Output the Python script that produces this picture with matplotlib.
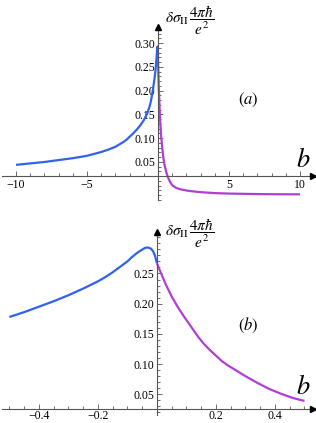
import matplotlib
matplotlib.use("Agg")
import matplotlib.pyplot as plt
from matplotlib.ticker import MultipleLocator, FixedLocator

plt.rcParams['mathtext.fontset'] = 'stix'
plt.rcParams['font.family'] = ['Liberation Serif', 'DejaVu Serif']

# ---- data ----
# wide range, b < -0.5 (panel a)
b_neg_wide = [-10, -9, -8, -7, -6, -5, -4, -3.5, -3, -2.5, -2.25, -2, -1.75, -1.5, -1.25, -1, -0.9, -0.75, -0.6]
s_neg_wide = [0.044, 0.047, 0.050, 0.054, 0.058, 0.063, 0.071, 0.076, 0.082, 0.091, 0.096, 0.103, 0.110, 0.118, 0.127,
              0.138, 0.144, 0.153, 0.166]
# zoomed range, -0.5 <= b <= 0
b_neg_zoom = [-0.5, -0.45, -0.4, -0.35, -0.3, -0.25, -0.2, -0.175, -0.15, -0.125, -0.1, -0.085, -0.07, -0.06,
              -0.05, -0.04, -0.03, -0.02, -0.013, -0.007, -0.003, 0.0]
s_neg_zoom = [0.178, 0.186, 0.195, 0.204, 0.214, 0.225, 0.237, 0.244, 0.252, 0.261, 0.270, 0.277, 0.283, 0.2865,
              0.2895, 0.2925, 0.293, 0.291, 0.287, 0.280, 0.273, 0.267]
# zoomed range, 0 <= b <= 0.5
b_pos_zoom = [0.0, 0.01, 0.03, 0.05, 0.07, 0.09, 0.11, 0.12, 0.14, 0.16, 0.18, 0.20, 0.22, 0.24, 0.26, 0.28,
              0.30, 0.34, 0.38, 0.42, 0.46, 0.5]
s_pos_zoom = [0.267, 0.255, 0.232, 0.212, 0.195, 0.180, 0.166, 0.159, 0.145, 0.133, 0.123, 0.114, 0.105, 0.098,
              0.092, 0.086, 0.080, 0.069, 0.059, 0.051, 0.044, 0.039]
# wide range, b > 0.5 (panel a)
b_pos_wide = [0.6, 0.7, 0.85, 1.0, 1.25, 1.5, 2, 2.5, 3, 4, 5, 6, 7, 8, 9, 10]
s_pos_wide = [0.027, 0.018, 0.008, 0.001, -0.004, -0.007, -0.010, -0.012, -0.0135, -0.0155, -0.0165, -0.017,
              -0.0175, -0.0178, -0.018, -0.018]

xticks_a = [-10, -5, 5, 10]
yticks_a = [0.05, 0.10, 0.15, 0.20, 0.25, 0.30]
xticks_b = [-0.4, -0.2, 0.2, 0.4]
yticks_b = [0.05, 0.10, 0.15, 0.20, 0.25]

BLUE = '#2F62F2'
PURPLE = '#B03ED6'
AXC = '#555555'

W, H = 316, 423
fig = plt.figure(figsize=(W / 100, H / 100), dpi=100)


def make_axes(px_left, px_right, px_top, px_bottom, xlim, ylim, y0,
              xticks, yticks, xminor, yminor, xfmt, ylab_xy, tag, tag_xy, b_xy, xpad):
    ax = fig.add_axes([px_left / W, 1 - px_bottom / H, (px_right - px_left) / W, (px_bottom - px_top) / H])
    ax.set_xlim(*xlim)
    ax.set_ylim(*ylim)
    for s in ('top', 'right'):
        ax.spines[s].set_visible(False)
    ax.spines['left'].set_position(('data', 0))
    ax.spines['bottom'].set_position(('data', y0))
    for s in ('left', 'bottom'):
        ax.spines[s].set_color(AXC)
        ax.spines[s].set_linewidth(0.8)
    ax.xaxis.set_major_locator(FixedLocator(xticks))
    ax.yaxis.set_major_locator(FixedLocator(yticks))
    ax.xaxis.set_minor_locator(MultipleLocator(xminor))
    ax.yaxis.set_minor_locator(MultipleLocator(yminor))
    ax.set_xticklabels([xfmt(v).replace('-', '\u2212') for v in xticks])
    ax.set_yticklabels(['%.2f' % v for v in yticks])
    ax.tick_params(which='both', direction='in', color=AXC, width=0.6, labelsize=8.5, pad=2)
    ax.tick_params(which='major', length=3.5)
    ax.tick_params(which='minor', length=2)
    ax.tick_params(axis='x', pad=xpad)
    # arrows
    ax.plot([xlim[1]], [y0], marker='>', color='black', markersize=5, clip_on=False, zorder=5)
    ax.plot([0], [ylim[1]], marker='^', color='black', markersize=5, clip_on=False, zorder=5)
    fig.text(ylab_xy[0] / W, 1 - ylab_xy[1] / H,
             r'$\delta\sigma_{\rm II}\,\dfrac{4\pi\hbar}{e^2}$', fontsize=11, ha='left', va='center')
    fig.text(b_xy[0] / W, 1 - b_xy[1] / H, r'$b$', fontsize=19, ha='center', va='center')
    fig.text(tag_xy[0] / W, 1 - tag_xy[1] / H, tag, fontsize=12, ha='center', va='center')
    return ax


ax1 = make_axes(2, 313, 27, 200, (-10.99, 10.92), (-0.030, 0.334), 0.0206,
                xticks_a, yticks_a, 1, 0.01, lambda v: '%d' % v,
                (165, 20), r'$(a)$', (248, 100), (303, 160), 2)
ax1.plot(b_neg_wide + b_neg_zoom, s_neg_wide + s_neg_zoom, color=BLUE, lw=1.6, solid_capstyle='butt')
ax1.plot(b_pos_zoom + b_pos_wide, s_pos_zoom + s_pos_wide, color=PURPLE, lw=1.6, solid_capstyle='butt')

ax2 = make_axes(2, 313, 232, 415, (-0.525, 0.529), (0.0157, 0.3187), 0.0257,
                xticks_b, yticks_b, 0.05, 0.01, lambda v: '%.1f' % v,
                (165, 233), r'$(b)$', (248, 325), (303, 387), 0.5)
ax2.plot(b_neg_zoom, s_neg_zoom, color=BLUE, lw=1.6, solid_capstyle='butt')
ax2.plot(b_pos_zoom, s_pos_zoom, color=PURPLE, lw=1.6, solid_capstyle='butt')

fig.savefig('out.png', dpi=100)
